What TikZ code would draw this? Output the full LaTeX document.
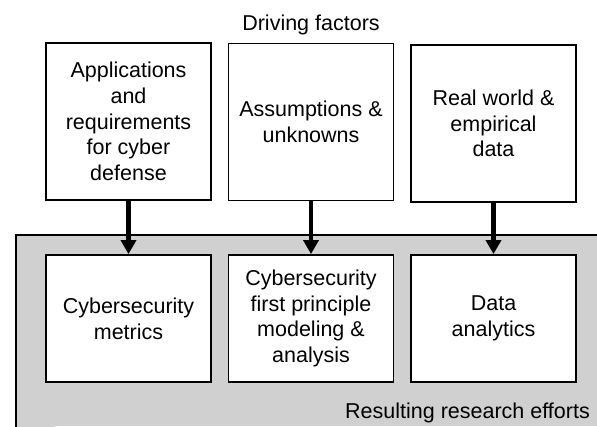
\documentclass[tikz,border=0pt]{standalone}
\usepackage{fontspec}
\setmainfont{Liberation Sans}
\usetikzlibrary{arrows.meta}
\definecolor{panelgray}{RGB}{208,208,208}
\begin{document}
\begin{tikzpicture}[x=1pt,y=-1pt,
  box/.style={draw=black,line width=1.8pt,fill=white,minimum width=165pt,minimum height=157pt,
    align=center,inner sep=0pt,font=\fontsize{21.5pt}{25.7pt}\selectfont},
  lowbox/.style={box,minimum height=127pt},
  flow/.style={line width=4.5pt,-{Triangle[width=15pt,length=14pt]}},
  lbl/.style={font=\fontsize{21.5pt}{25.7pt}\selectfont,inner sep=0pt}]
\useasboundingbox (0,0) rectangle (597,426);
\fill[white] (0,0) rectangle (597,426);
\draw[line width=1.5pt,fill=panelgray] (16,440) -- (16,235) -- (610,235);
\fill[panelgray] (16.8,235.8) rectangle (597,426);
\node[box] (a1) at (128.5,121.5) {Applications\\and\\requirements\\for cyber\\defense};
\node[box] (a2) at (311,122) {Assumptions \&\\unknowns};
\node[box] (a3) at (493.5,123.5) {Real world \&\\empirical\\data};
\node[lowbox] (b1) at (128.5,318.5) {Cybersecurity\\metrics};
\node[lowbox] (b2) at (311,318.5) {Cybersecurity\\first principle\\modeling \&\\analysis};
\node[lowbox] (b3) at (493.5,318.5) {Data\\analytics};
\node[lbl] (df) at (311,25) {Driving factors};
\node[lbl,anchor=east] (re) at (590,413) {Resulting research efforts};
\draw[flow] (a1.south) -- (b1.north);
\draw[flow] (a2.south) -- (b2.north);
\draw[flow] (a3.south) -- (b3.north);
\end{tikzpicture}
\end{document}
